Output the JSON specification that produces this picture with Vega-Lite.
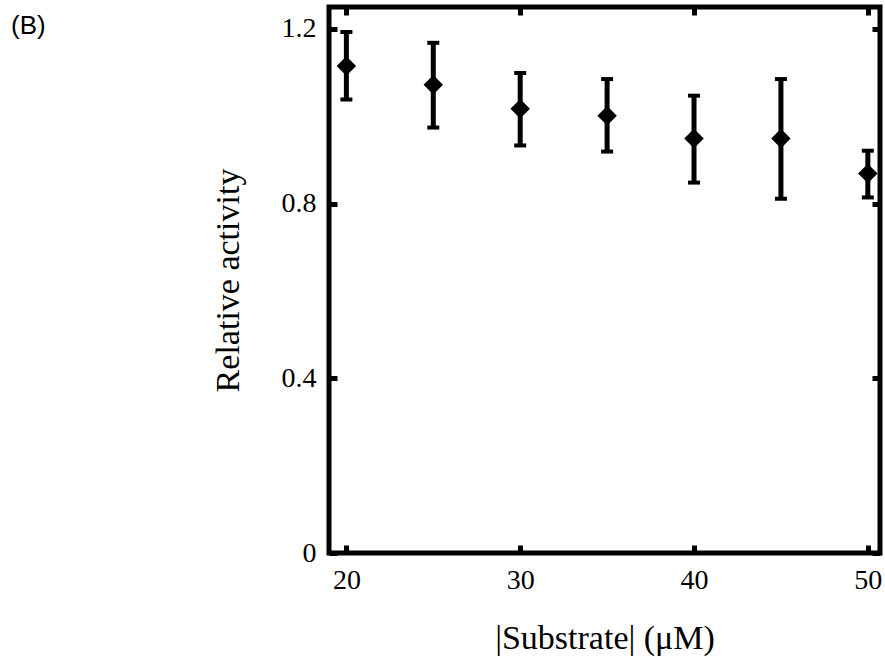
{
  "$schema": "https://vega.github.io/schema/vega-lite/v6.json",
  "width": 551,
  "height": 546,
  "autosize": "none",
  "padding": {"left": 329, "top": 7, "right": 5, "bottom": 104},
  "background": "white",
  "title": {"text": "(B)", "anchor": "start", "frame": "group", "font": "Liberation Sans", "fontSize": 26, "fontWeight": "normal", "color": "black", "dx": -318, "dy": 34, "baseline": "top", "offset": 0},
  "config": {
    "view": {"stroke": "black", "strokeWidth": 5},
    "axis": {"domain": false, "grid": false, "tickColor": "black", "tickWidth": 5, "tickSize": 8, "offset": -8, "zindex": 1, "labelFont": "Liberation Serif", "labelFontSize": 28, "labelColor": "black", "titleFont": "Liberation Serif", "titleFontSize": 34, "titleFontWeight": "normal", "titleColor": "black"}
  },
  "data": {"values": [
    {"conc": 20, "activity": 1.115, "lo": 1.038, "hi": 1.193},
    {"conc": 25, "activity": 1.072, "lo": 0.974, "hi": 1.168},
    {"conc": 30, "activity": 1.017, "lo": 0.933, "hi": 1.099},
    {"conc": 35, "activity": 1.001, "lo": 0.919, "hi": 1.085},
    {"conc": 40, "activity": 0.949, "lo": 0.848, "hi": 1.047},
    {"conc": 45, "activity": 0.949, "lo": 0.811, "hi": 1.085},
    {"conc": 50, "activity": 0.869, "lo": 0.814, "hi": 0.921}
  ]},
  "resolve": {"axis": {"x": "independent", "y": "independent"}},
  "layer": [
    {
      "mark": {"type": "rule", "color": "black", "strokeWidth": 5},
      "encoding": {
        "x": {"field": "conc", "type": "quantitative", "scale": {"domain": [19, 50.7], "nice": false, "zero": false},
              "axis": {"orient": "bottom", "values": [20, 30, 40, 50], "title": "|Substrate| (μM)", "labelPadding": 13, "titlePadding": 27}},
        "y": {"field": "lo", "type": "quantitative", "scale": {"domain": [0, 1.25], "nice": false},
              "axis": {"orient": "left", "values": [0, 0.4, 0.8, 1.2], "format": "~g", "title": "Relative activity", "labelPadding": 13, "titlePadding": 36}},
        "y2": {"field": "hi"}
      }
    },
    {
      "mark": {"type": "tick", "color": "black", "orient": "horizontal", "thickness": 4, "size": 12, "opacity": 1},
      "encoding": {
        "x": {"field": "conc", "type": "quantitative", "axis": null},
        "y": {"field": "lo", "type": "quantitative", "axis": null}
      }
    },
    {
      "mark": {"type": "tick", "color": "black", "orient": "horizontal", "thickness": 4, "size": 12, "opacity": 1},
      "encoding": {
        "x": {"field": "conc", "type": "quantitative", "axis": null},
        "y": {"field": "hi", "type": "quantitative", "axis": null}
      }
    },
    {
      "mark": {"type": "point", "shape": "diamond", "filled": true, "color": "black", "size": 380, "opacity": 1},
      "encoding": {
        "x": {"field": "conc", "type": "quantitative",
              "axis": {"orient": "top", "values": [20, 30, 40, 50], "labels": false, "title": null}},
        "y": {"field": "activity", "type": "quantitative",
              "axis": {"orient": "right", "values": [0, 0.4, 0.8, 1.2], "labels": false, "title": null}}
      }
    }
  ]
}
